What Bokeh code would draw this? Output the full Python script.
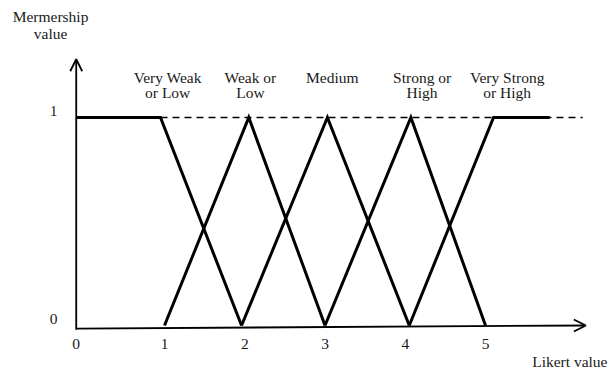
from bokeh.plotting import figure
from bokeh.models import Range1d, Arrow, OpenHead
from bokeh.core.properties import value
from bokeh.embed import file_html
from bokeh.resources import INLINE

# ---- data -------------------------------------------------------------
likert_ticks = [0, 1, 2, 3, 4, 5]
likert_tick_labels = ["0", "1", "2", "3", "4", "5"]
membership_ticks = [0, 1]
membership_tick_labels = ["0", "1"]

category_line1 = ["Very Weak", "Weak or", "Medium", "Strong or", "Very Strong"]
category_line2 = ["or Low", "Low", "", "High", "or High"]

very_weak_x = [-0.1, 0.95, 1.96]
very_weak_y = [1, 1, 0]
weak_x = [1.0, 2.05, 3.0]
weak_y = [0, 1, 0]
medium_x = [1.96, 3.03, 4.05]
medium_y = [0, 1, 0]
strong_x = [3.0, 4.07, 5.0]
strong_y = [0, 1, 0]
very_strong_x = [4.05, 5.1, 5.8]
very_strong_y = [0, 1, 1]

# ---- layout helpers (positions, not data) -------------------------------
axis_x = -0.1
x_arrow_end = 6.25
y_arrow_end = 1.28
label_x = [1.04, 2.07, 3.09, 4.21, 5.27]
SH = 0.029  # vertical text correction
FONT = value("Liberation Serif")
FS = "15.5px"
TXT = "#1a1a1a"

p = figure(width=609, height=372, output_backend="svg", toolbar_location=None,
           x_range=Range1d(-1.0436, 6.545), y_range=Range1d(-0.226, 1.5625),
           x_axis_type=None, y_axis_type=None, min_border=0,
           min_border_left=0, min_border_right=0, min_border_top=0, min_border_bottom=0)
p.outline_line_color = None
p.xgrid.visible = False
p.ygrid.visible = False
p.background_fill_color = "white"
p.border_fill_color = "white"

# dashed full-membership reference line
p.line([very_weak_x[1], x_arrow_end - 0.04], [1, 1], line_color="black",
       line_width=1.5, line_dash="7 5")

# axes with open arrow heads
p.add_layout(Arrow(end=OpenHead(size=12, line_width=1.8, line_color="black"),
                   x_start=axis_x, y_start=-0.015, x_end=x_arrow_end, y_end=0,
                   line_width=1.8, line_color="black"))
p.add_layout(Arrow(end=OpenHead(size=12, line_width=1.8, line_color="black"),
                   x_start=axis_x, y_start=-0.02, x_end=axis_x, y_end=y_arrow_end,
                   line_width=1.8, line_color="black"))

# membership functions
for xs, ys in [(very_weak_x, very_weak_y), (weak_x, weak_y), (medium_x, medium_y),
               (strong_x, strong_y), (very_strong_x, very_strong_y)]:
    p.line(xs, ys, line_color="black", line_width=3, line_join="miter")

# category labels
p.text(x=label_x, y=[1.163 + SH] * 5, text=category_line1, text_font=FONT,
       text_font_size=FS, text_align="center", text_baseline="alphabetic",
       text_color=TXT)
p.text(x=label_x, y=[1.089 + SH] * 5, text=category_line2, text_font=FONT,
       text_font_size=FS, text_align="center", text_baseline="alphabetic",
       text_color=TXT)

# tick labels
x_tick_pos = [axis_x if t == 0 else t for t in likert_ticks]
p.text(x=x_tick_pos, y=[-0.12 + SH] * len(likert_ticks), text=likert_tick_labels,
       text_font=FONT, text_font_size=FS, text_align="center",
       text_baseline="alphabetic", text_color=TXT)
p.text(x=[axis_x - 0.283] * len(membership_ticks),
       y=[t + SH for t in membership_ticks],
       text=membership_tick_labels, text_font=FONT, text_font_size=FS,
       text_align="center", text_baseline="alphabetic", text_color=TXT)

# axis titles
p.text(x=[-0.42, -0.42], y=[1.457 + SH, 1.375 + SH], text=["Mermership", "value"],
       text_font=FONT, text_font_size=FS, text_align="center",
       text_baseline="alphabetic", text_color=TXT)
p.text(x=[6.545], y=[-0.201 + SH], text=["Likert value"], text_font=FONT,
       text_font_size=FS, text_align="right", text_baseline="alphabetic",
       text_color=TXT, x_offset=-2)

open("out.html", "w").write(file_html(p, INLINE))
